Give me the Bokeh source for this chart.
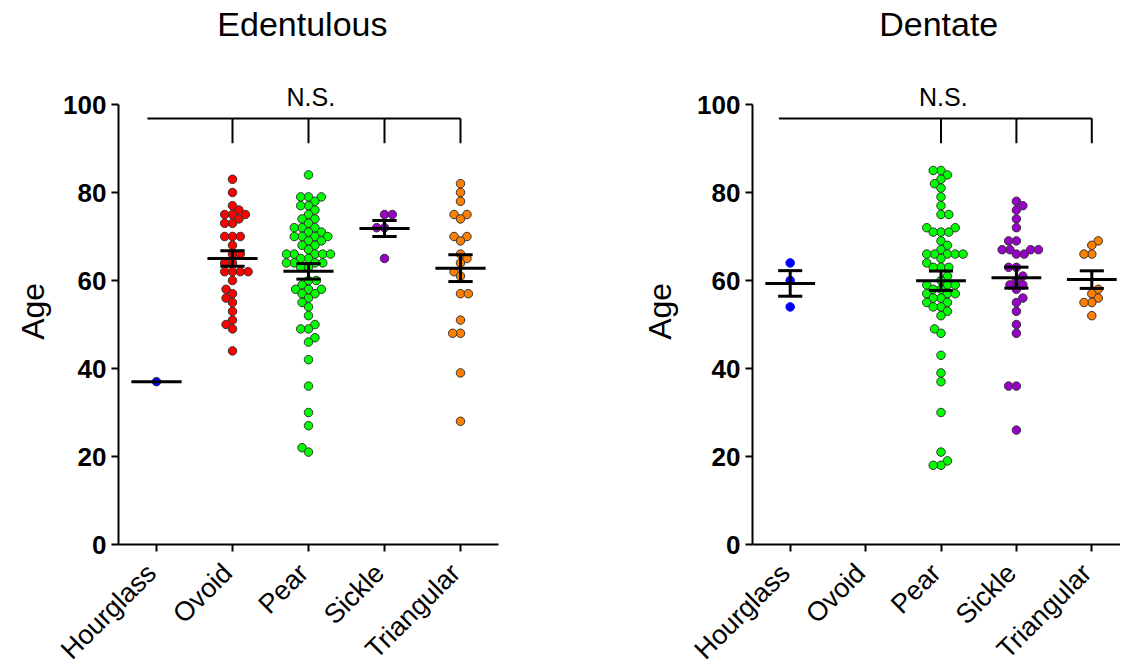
import math
import numpy as np
from bokeh.plotting import figure
from bokeh.layouts import row
from bokeh.models import Range1d, FixedTicker
from bokeh.core.properties import value
from bokeh.embed import file_html
from bokeh.resources import INLINE

categories = ["Hourglass", "Ovoid", "Pear", "Sickle", "Triangular"]
colors = ["#0000ff", "#ff0000", "#00ff00", "#9900cc", "#ff8000"]

# Edentulous ages
ed_hourglass = [37]
ed_ovoid = [83, 80, 77, 76, 75, 75, 75, 74, 73, 73, 70, 70, 70, 68, 66, 66, 64, 64,
            62, 62, 62, 62, 60, 58, 57, 56, 55, 53, 51, 50, 49, 44]
ed_pear = [84, 79, 79, 79, 78, 77, 77, 76, 75, 74, 74, 73, 72, 72, 72, 71, 71,
           70, 70, 70, 70, 69, 69, 68, 68, 67, 66, 66, 66, 66, 66, 65, 65,
           64, 64, 64, 64, 63, 63, 60, 60, 59, 58, 58, 58, 57, 57, 56, 55, 54,
           52, 50, 49, 49, 47, 46, 42, 36, 30, 27, 22, 21]
ed_sickle = [75, 75, 72, 72, 65]
ed_triangular = [82, 80, 78, 75, 75, 74, 70, 70, 69, 66, 65, 64, 62, 61, 57, 57,
                 51, 48, 48, 39, 28]

# Dentate ages
de_hourglass = [64, 60, 54]
de_ovoid = []
de_pear = [85, 85, 84, 83, 82, 81, 79, 77, 75, 75, 72, 72, 71, 71, 71, 69, 68, 67,
           66, 66, 66, 66, 66, 65, 64, 63, 63, 63, 61, 60, 59, 59, 59, 58, 58,
           57, 57, 57, 56, 56, 55, 55, 54, 54, 53, 52, 49, 48, 43, 39, 37, 30,
           21, 19, 18, 18]
de_sickle = [78, 77, 76, 74, 72, 69, 69, 67, 67, 67, 67, 66, 66, 63, 63, 61, 60,
             59, 59, 58, 56, 55, 53, 50, 48, 36, 36, 26]
de_triangular = [69, 68, 66, 66, 58, 57, 56, 55, 55, 52]

y_ticks = [0, 20, 40, 60, 80, 100]
ns_label = "N.S."
y_label = "Age"
FONT = "Liberation Sans"
SY = 4.4        # px per year
AXIS_Y = 544    # pixel row of age 0
FIG_H = 666


def swarm(vals, d, sx, sy):
    """Beeswarm offsets (data x units) computed in pixel space."""
    order = sorted(range(len(vals)), key=lambda i: vals[i])
    placed = []
    out = [0.0] * len(vals)
    last_sign = 1
    for i in order:
        y = vals[i] * sy
        cands = [0.0]
        for (px, py) in placed:
            dy = abs(py - y)
            if dy < d:
                dx = math.sqrt(d * d - dy * dy)
                cands += [px + dx, px - dx]
        valid = [c for c in cands
                 if all((c - px) ** 2 + (y - py) ** 2 >= d * d - 1e-6 for px, py in placed)]
        valid.sort(key=lambda c: (round(abs(c), 2), 0 if (c * -last_sign) > 0 else 1))
        best = valid[0]
        if best != 0:
            last_sign = 1 if best > 0 else -1
        placed.append((best, y))
        out[i] = best / sx
    return out


def make_panel(title, title_x, groups, left_px, x_end, sx, fig_w, drops, br_start,
               hg_line, age_px):
    # left_px: distance from figure's left edge to the y axis (x = -0.5)
    x0 = -0.5 - left_px / sx
    x1 = x0 + fig_w / sx
    ytop = AXIS_Y / SY
    ybot = -(FIG_H - AXIS_Y) / SY
    p = figure(title=None, width=fig_w, height=FIG_H,
               x_range=Range1d(x0, x1), y_range=Range1d(ybot, ytop),
               output_backend="svg", toolbar_location=None, min_border=0,
               min_border_left=0, min_border_right=0, min_border_top=0,
               min_border_bottom=0)
    p.outline_line_color = None
    p.xgrid.visible = False
    p.ygrid.visible = False
    p.background_fill_color = "white"
    p.border_fill_color = "white"

    # panel title
    p.text(x=[title_x], y=[118.3], text=[title], text_font=value(FONT),
           text_font_size="34px", text_align="center", text_baseline="middle",
           text_color="black")

    # bracket
    p.line(x=[br_start, 4], y=[96.8, 96.8], line_color="black", line_width=2)
    p.segment(x0=drops, y0=[96.8] * len(drops), x1=drops, y1=[91.2] * len(drops),
              line_color="black", line_width=2)
    p.text(x=[2.03], y=[101.7], text=[ns_label], text_font=value(FONT),
           text_font_size="25px", text_align="center", text_baseline="middle",
           text_color="black")

    for gi, vals in enumerate(groups):
        if len(vals) == 0:
            continue
        offs = swarm(vals, 7.8, sx, SY)
        xs = [gi + o for o in offs]
        lc = "#333333"
        if gi == 0 and hg_line is not None:
            lc = hg_line
        p.scatter(x=xs, y=vals, size=8.5, fill_color=colors[gi], line_color=lc,
                  line_width=1)
        arr = np.array(vals, dtype=float)
        m = arr.mean()
        p.segment(x0=[gi - 0.33], y0=[m], x1=[gi + 0.33], y1=[m],
                  line_color="black", line_width=3)
        if len(vals) > 1:
            sem = arr.std(ddof=1) / math.sqrt(len(vals))
            p.segment(x0=[gi, gi - 0.16, gi - 0.16],
                      y0=[m - sem, m + sem, m - sem],
                      x1=[gi, gi + 0.16, gi + 0.16],
                      y1=[m + sem, m + sem, m - sem],
                      line_color="black", line_width=3)

    # category labels, rotated 45 degrees and ending just below each tick
    p.text(x=[i - 5.0 / sx for i in range(len(categories))],
           y=[-24.0 / SY] * len(categories), text=categories, angle=math.pi / 4,
           text_align="right", text_baseline="middle", text_font=value(FONT),
           text_font_size="27px", text_color="black")

    # y axis title
    p.text(x=[-0.5 - age_px / sx], y=[53.0], text=[y_label], angle=math.pi / 2,
           text_align="center", text_baseline="middle", text_font=value(FONT),
           text_font_size="32px", text_color="black")

    # axes, pinned at age 0 and at the left edge of the category range
    p.xaxis.fixed_location = 0
    p.xaxis.bounds = (-0.5, x_end)
    p.xaxis.ticker = FixedTicker(ticks=list(range(5)))
    p.xaxis.major_label_text_color = None
    p.xaxis.minor_tick_line_color = None
    p.yaxis.fixed_location = -0.5
    p.yaxis.ticker = FixedTicker(ticks=y_ticks)
    p.yaxis.bounds = (0, 100)
    p.yaxis.minor_tick_line_color = None
    p.yaxis.major_label_text_font = FONT
    p.yaxis.major_label_text_font_size = "26px"
    p.yaxis.major_label_text_font_style = "bold"
    p.yaxis.major_label_text_color = "black"
    p.yaxis.major_label_standoff = 5
    for ax in (p.xaxis, p.yaxis):
        ax.axis_line_width = 2
        ax.axis_line_color = "black"
        ax.major_tick_line_width = 2
        ax.major_tick_line_color = "black"
        ax.major_tick_out = 7
        ax.major_tick_in = 0
    return p


p1 = make_panel("Edentulous", 1.92,
                [ed_hourglass, ed_ovoid, ed_pear, ed_sickle, ed_triangular],
                118, 4.5, 76.0, 634, [1, 2, 3, 4], -0.12, None, 86)
p2 = make_panel("Dentate", 1.97,
                [de_hourglass, de_ovoid, de_pear, de_sickle, de_triangular],
                118, 4.38, 75.4, 486, [2, 3, 4], -0.15, "#0000ff", 93)

layout = row(p1, p2)
open("out.html", "w").write(file_html(layout, INLINE))
